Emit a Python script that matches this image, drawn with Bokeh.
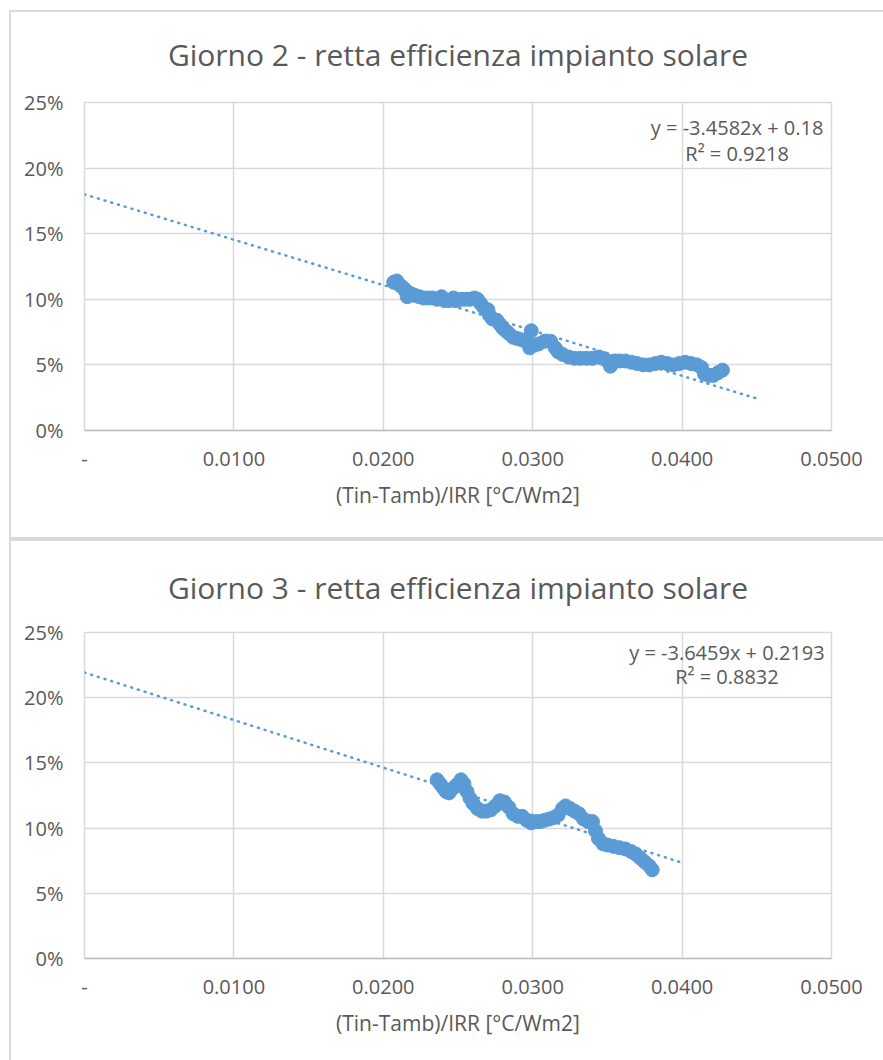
from bokeh.plotting import figure
from bokeh.models import Range1d, FixedTicker, Label, ColumnDataSource
from bokeh.layouts import column
from bokeh.embed import file_html
from bokeh.resources import INLINE

# ---------------- data ----------------
titles = ["Giorno 2 - retta efficienza impianto solare",
          "Giorno 3 - retta efficienza impianto solare"]
x_axis_title = "(Tin-Tamb)/IRR [°C/Wm2]"

x_tick_vals = [0.0, 0.01, 0.02, 0.03, 0.04, 0.05]
x_tick_labels = ["-", "0.0100", "0.0200", "0.0300", "0.0400", "0.0500"]
y_tick_vals = [0.0, 0.05, 0.10, 0.15, 0.20, 0.25]
y_tick_labels = ["0%", "5%", "10%", "15%", "20%", "25%"]

# Giorno 2
g2_x = [0.0207, 0.0209, 0.0210, 0.0212, 0.0214, 0.0215, 0.0217, 0.0216, 0.0219, 0.0221,
        0.0224, 0.0227, 0.0230, 0.0233, 0.0236, 0.0239, 0.0241, 0.0244, 0.0247, 0.0249,
        0.0252, 0.0255, 0.0258, 0.0261, 0.0263, 0.0265, 0.0267, 0.0270, 0.0271, 0.0273,
        0.0276, 0.0278, 0.0280, 0.0282, 0.0284, 0.0287, 0.0290, 0.0293, 0.0296, 0.0299,
        0.0298, 0.0301, 0.0304, 0.0308, 0.0312, 0.0315, 0.0317, 0.0320, 0.0324, 0.0328,
        0.0332, 0.0336, 0.0340, 0.0344, 0.0347, 0.0350, 0.0352, 0.0355, 0.0358, 0.0362,
        0.0366, 0.0370, 0.0374, 0.0378, 0.0382, 0.0386, 0.0390, 0.0394, 0.0398, 0.0402,
        0.0406, 0.0410, 0.0413, 0.0415, 0.0418, 0.0421, 0.0424, 0.0427]
g2_y = [0.113, 0.114, 0.112, 0.110, 0.108, 0.106, 0.105, 0.102, 0.104, 0.103,
        0.102, 0.101, 0.101, 0.101, 0.100, 0.102, 0.099, 0.099, 0.101, 0.099,
        0.100, 0.100, 0.100, 0.101, 0.100, 0.097, 0.094, 0.092, 0.088, 0.085,
        0.084, 0.081, 0.078, 0.076, 0.074, 0.071, 0.070, 0.069, 0.068, 0.076,
        0.063, 0.065, 0.066, 0.068, 0.068, 0.063, 0.060, 0.058, 0.056, 0.055,
        0.055, 0.055, 0.055, 0.056, 0.055, 0.053, 0.049, 0.053, 0.053, 0.053,
        0.052, 0.051, 0.050, 0.050, 0.051, 0.052, 0.051, 0.050, 0.051, 0.052,
        0.051, 0.050, 0.048, 0.043, 0.042, 0.042, 0.044, 0.046]
g2_slope, g2_intercept, g2_r2 = -3.4582, 0.18, 0.9218
g2_trend_x = [0.0, 0.045]

# Giorno 3
g3_x = [0.0236, 0.0238, 0.0240, 0.0242, 0.0244, 0.0246, 0.0249, 0.0252, 0.0254, 0.0256,
        0.0258, 0.0260, 0.0263, 0.0266, 0.0269, 0.0272, 0.0275, 0.0278, 0.0281, 0.0284,
        0.0287, 0.0290, 0.0293, 0.0296, 0.0299, 0.0302, 0.0305, 0.0308, 0.0311, 0.0314,
        0.0317, 0.0320, 0.0322, 0.0325, 0.0328, 0.0331, 0.0334, 0.0337, 0.0340, 0.0342,
        0.0344, 0.0347, 0.0350, 0.0354, 0.0358, 0.0362, 0.0366, 0.0369, 0.0372, 0.0375,
        0.0378, 0.0380]
g3_y = [0.137, 0.134, 0.131, 0.128, 0.127, 0.130, 0.133, 0.137, 0.134, 0.128,
        0.123, 0.119, 0.115, 0.113, 0.113, 0.114, 0.117, 0.121, 0.120, 0.116,
        0.111, 0.109, 0.109, 0.106, 0.104, 0.105, 0.105, 0.106, 0.107, 0.108,
        0.110, 0.115, 0.117, 0.115, 0.113, 0.111, 0.107, 0.105, 0.105, 0.098,
        0.092, 0.088, 0.087, 0.086, 0.085, 0.084, 0.082, 0.080, 0.077, 0.074,
        0.071, 0.068]
g3_slope, g3_intercept, g3_r2 = -3.6459, 0.2193, 0.8832
g3_trend_x = [0.0, 0.040]

# ---------------- styling ----------------
BLUE = "#5b9bd5"
GRID = "#d9d9d9"
TEXT = "#595959"
FONT = "Open Sans"

G = "linear-gradient(%s, %s)" % (GRID, GRID)
TOP_BG = ", ".join([
    G + " 9px 10px / 2px 100% no-repeat",
    G + " 9px 10px / 100% 2px no-repeat",
    G + " 9px 100% / 100% 2px no-repeat",
]) + ", white"
BOT_BG = ", ".join([
    G + " 9px 0px / 2px 100% no-repeat",
    G + " 9px 0px / 100% 2px no-repeat",
]) + ", white"


def make_chart(title, xs, ys, slope, intercept, r2, trend_x, height, top,
               bottom, eq_pos, bg, title_standoff):
    p = figure(width=883, height=height, output_backend="svg",
               toolbar_location=None, tools="",
               x_range=Range1d(0, 0.05), y_range=Range1d(0, 0.25),
               min_border_left=84, min_border_right=52,
               min_border_top=top, min_border_bottom=bottom)
    p.styles = {"background": bg}
    p.background_fill_color = "white"
    p.border_fill_color = None
    p.outline_line_color = GRID
    p.outline_line_width = 1.5

    p.title.text = title
    p.title.align = "center"
    p.title.text_font = FONT
    p.title.text_font_size = "30px"
    p.title.text_font_style = "normal"
    p.title.text_color = TEXT
    p.title.standoff = title_standoff

    p.xaxis.ticker = FixedTicker(ticks=x_tick_vals)
    p.xaxis.major_label_overrides = {v: l for v, l in zip(x_tick_vals, x_tick_labels)}
    p.yaxis.ticker = FixedTicker(ticks=y_tick_vals)
    p.yaxis.major_label_overrides = {v: l for v, l in zip(y_tick_vals, y_tick_labels)}

    for ax in (p.xaxis[0], p.yaxis[0]):
        ax.major_tick_line_color = None
        ax.minor_tick_line_color = None
        ax.major_tick_out = 0
        ax.major_tick_in = 0
        ax.major_label_text_font = FONT
        ax.major_label_text_font_size = "20px"
        ax.major_label_text_color = TEXT
    p.yaxis.axis_line_color = None
    p.yaxis.major_label_standoff = 21
    p.xaxis.axis_line_color = "#bfbfbf"
    p.xaxis.axis_line_width = 1.5
    p.xaxis.major_label_standoff = 21
    p.xaxis.axis_label = x_axis_title
    p.xaxis.axis_label_text_font = FONT
    p.xaxis.axis_label_text_font_size = "21px"
    p.xaxis.axis_label_text_font_style = "normal"
    p.xaxis.axis_label_text_color = TEXT
    p.xaxis.axis_label_standoff = 12

    p.xgrid.ticker = FixedTicker(ticks=x_tick_vals)
    p.ygrid.ticker = FixedTicker(ticks=y_tick_vals)
    p.xgrid.grid_line_color = GRID
    p.ygrid.grid_line_color = GRID
    p.xgrid.grid_line_width = 1.5
    p.ygrid.grid_line_width = 1.5

    src = ColumnDataSource(dict(x=xs, y=ys))
    p.scatter("x", "y", source=src, size=14, fill_color=BLUE, line_color=BLUE)

    ty = [slope * v + intercept for v in trend_x]
    p.line(trend_x, ty, line_color=BLUE, line_width=2.5, line_dash="1 6",
           line_cap="round")

    eq_text = "y = %.4fx + %s" % (slope, ("%g" % intercept))
    r2_text = "R² = %.4f" % r2
    for txt, yy in ((eq_text, eq_pos[1]), (r2_text, eq_pos[2])):
        p.add_layout(Label(x=eq_pos[0], y=yy, text=txt, text_align="center",
                           text_baseline="middle", text_font=FONT,
                           text_font_size="20px", text_color=TEXT))
    return p


p1 = make_chart(titles[0], g2_x, g2_y, g2_slope, g2_intercept, g2_r2, g2_trend_x,
                539, 102, 109, (0.04368, 0.2309, 0.2111), TOP_BG, 55)
p2 = make_chart(titles[1], g3_x, g3_y, g3_slope, g3_intercept, g3_r2, g3_trend_x,
                521, 91, 102, (0.0430, 0.2348, 0.2165), BOT_BG, 50)

layout = column(p1, p2, spacing=0)
open("out.html", "w").write(file_html(layout, INLINE))
